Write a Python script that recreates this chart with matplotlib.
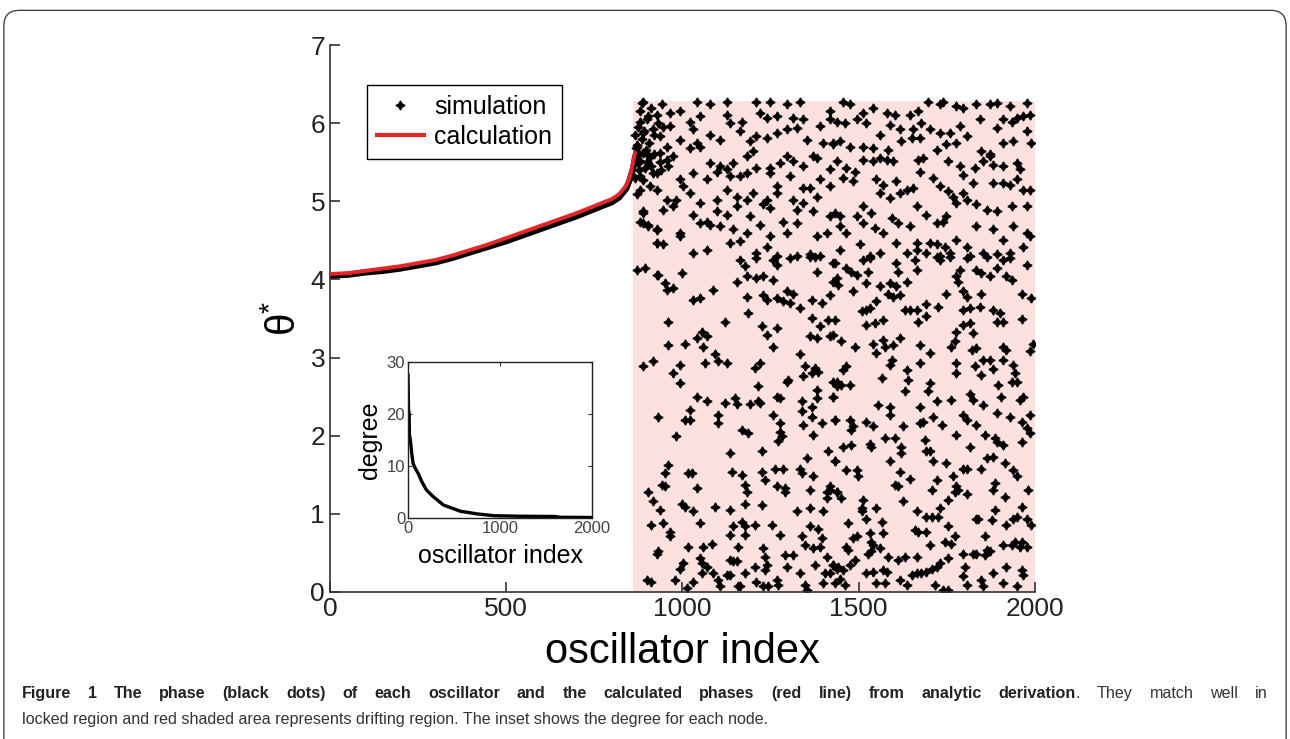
import numpy as np
import matplotlib.pyplot as plt
from matplotlib.lines import Line2D
from matplotlib.patches import FancyBboxPatch

plt.rcParams['font.family'] = ['Liberation Sans', 'DejaVu Sans']
plt.rcParams['mathtext.fontset'] = 'custom'
plt.rcParams['mathtext.rm'] = 'Liberation Sans'
plt.rcParams['mathtext.it'] = 'Liberation Sans:italic'

# locked region: calculated phase (red) and simulated phase (black band)
lock_idx = [0, 50, 100, 150, 200, 250, 300, 350, 400, 450, 500, 550, 600, 650,
            700, 750, 800, 820, 840, 850, 860, 865]
calc_phase = [4.07, 4.08, 4.11, 4.14, 4.17, 4.21, 4.25, 4.31, 4.38, 4.45, 4.53,
              4.61, 4.69, 4.77, 4.85, 4.94, 5.03, 5.09, 5.20, 5.30, 5.50, 5.62]
sim_phase = [4.05, 4.06, 4.09, 4.11, 4.14, 4.18, 4.22, 4.28, 4.35, 4.42, 4.49,
             4.57, 4.65, 4.73, 4.81, 4.90, 4.99, 5.05, 5.16, 5.27, 5.42, 5.55]

drift_start = 860
drift_top = 2 * np.pi

# drifting region: simulated phases (index, phase)
drift_pts = [
    # junction cluster
    (885, 6.26), (899, 6.05), (874, 5.95), (870, 5.72), (888, 5.62), (908, 5.57), (874, 5.49),
    (894, 5.43), (916, 5.36), (888, 5.27), (908, 5.19), (888, 4.87), (879, 4.74), (902, 4.70),
    (927, 4.63), (927, 4.47), (927, 4.06), (868, 5.68), (876, 5.60), (880, 5.52), (884, 5.80),
    (892, 5.90), (878, 5.40), (896, 5.66), (904, 5.75), (866, 5.85), (900, 5.50), (912, 5.45),
    (920, 5.60), (880, 6.15), (910, 6.20), (930, 6.00), (945, 5.95), (955, 5.70), (935, 5.50),
    (960, 5.45), (865, 5.30), (872, 5.10), (918, 5.85), (940, 5.40),
    # upper left block
    (889, 6.27), (941, 6.25), (1040, 6.27), (1078, 6.24), (1125, 6.27), (1210, 6.27), (1248, 6.27),
    (1296, 6.25), (1333, 6.27), (1419, 6.15), (879, 6.02), (903, 6.09), (927, 6.11), (965, 6.13),
    (993, 6.15), (1021, 6.02), (1050, 6.09), (1125, 6.11), (1135, 6.00), (1168, 6.02), (1220, 6.13),
    (1239, 6.07), (1267, 6.09), (1314, 6.07), (1343, 6.05), (1390, 5.96), (1419, 6.05), (889, 5.88),
    (917, 5.92), (936, 5.83), (965, 5.96), (993, 5.79), (1031, 5.92), (1040, 5.75), (1078, 5.85),
    (1106, 5.79), (1163, 5.90), (1192, 5.77), (1210, 5.83), (1239, 5.81), (1267, 5.88), (1296, 5.92),
    (1324, 5.94), (1352, 5.79), (1400, 5.75), (1428, 5.75), (870, 5.70), (898, 5.60), (936, 5.62),
    (955, 5.53), (974, 5.58), (1021, 5.68), (1050, 5.70), (1078, 5.49), (1106, 5.45), (1125, 5.41),
    (1144, 5.49), (1182, 5.58), (1201, 5.64), (1210, 5.43), (1248, 5.43), (1277, 5.49), (1296, 5.58),
    (1314, 5.51), (1343, 5.45), (1371, 5.58), (1381, 5.56), (1419, 5.41), (879, 5.32), (927, 5.36),
    (993, 5.28), (1002, 5.19), (1031, 5.36), (1069, 5.28), (1097, 5.38), (1135, 5.32), (1163, 5.32),
    (1182, 5.36), (1248, 5.36), (1267, 5.19), (1305, 5.32), (1343, 5.17), (1362, 5.17), (1390, 5.28),
    (1419, 5.19), (879, 5.15), (927, 5.15), (955, 5.02), (983, 5.02), (1021, 5.11), (1050, 4.98),
    (1097, 5.02), (1125, 5.15), (1154, 5.06), (1182, 5.02), (1201, 5.11), (1239, 5.02), (1267, 5.11),
    (1314, 5.02), (1343, 4.98), (1381, 5.06), (889, 4.85), (946, 4.89), (974, 4.94), (1031, 4.83),
    (1069, 4.74), (1097, 4.87), (1125, 4.83), (1154, 4.94), (1192, 4.81), (1229, 4.96), (1248, 4.91),
    (1286, 4.74), (1324, 4.89), (1371, 4.87), (1419, 4.81), (889, 4.72), (903, 4.68), (927, 4.64),
    (993, 4.59), (1050, 4.72), (1078, 4.70), (1106, 4.68), (1144, 4.64), (1182, 4.59), (1220, 4.70),
    (1248, 4.55), (1296, 4.59), (1324, 4.72), (1381, 4.55), (1409, 4.59), (927, 4.47), (946, 4.45),
    (993, 4.55), (1031, 4.34), (1069, 4.38), (1135, 4.47), (1163, 4.49), (1210, 4.34), (1239, 4.42),
    (1267, 4.30), (1324, 4.30), (1362, 4.32), (1390, 4.30),
    # upper right block
    (1456, 6.27), (1475, 6.24), (1513, 6.13), (1541, 6.20), (1579, 6.13), (1602, 6.11), (1645, 6.11),
    (1669, 6.15), (1697, 6.27), (1730, 6.24), (1740, 6.27), (1777, 6.22), (1796, 6.20), (1834, 6.24),
    (1872, 6.24), (1891, 6.26), (1929, 6.22), (1976, 6.26), (1986, 6.11), (1967, 6.09), (1948, 6.07),
    (1437, 6.02), (1461, 6.00), (1494, 6.05), (1522, 6.00), (1560, 5.85), (1588, 5.98), (1617, 5.92),
    (1654, 5.92), (1678, 6.00), (1702, 5.92), (1730, 5.88), (1759, 5.88), (1787, 5.96), (1806, 5.83),
    (1844, 6.05), (1891, 5.94), (1910, 6.05), (1934, 6.02), (1976, 5.90), (1427, 5.73), (1446, 5.77),
    (1475, 5.70), (1513, 5.70), (1541, 5.68), (1584, 5.66), (1621, 5.77), (1650, 5.81), (1673, 5.81),
    (1721, 5.66), (1749, 5.73), (1777, 5.75), (1848, 5.64), (1872, 5.60), (1910, 5.75), (1938, 5.77),
    (1990, 5.75), (1437, 5.51), (1465, 5.43), (1489, 5.38), (1513, 5.53), (1541, 5.51), (1560, 5.55),
    (1579, 5.53), (1598, 5.51), (1669, 5.53), (1683, 5.55), (1754, 5.51), (1787, 5.45), (1830, 5.43),
    (1853, 5.51), (1872, 5.58), (1882, 5.47), (1910, 5.45), (1948, 5.49), (1957, 5.41), (1456, 5.30),
    (1484, 5.26), (1550, 5.28), (1569, 5.21), (1607, 5.26), (1636, 5.15), (1654, 5.17), (1673, 5.38),
    (1711, 5.30), (1730, 5.19), (1754, 5.13), (1768, 5.06), (1796, 5.34), (1825, 5.23), (1882, 5.23),
    (1910, 5.23), (1929, 5.21), (1948, 5.28), (1967, 5.15), (1986, 5.15), (1432, 4.85), (1446, 4.81),
    (1494, 4.81), (1513, 4.94), (1536, 4.85), (1560, 5.11), (1588, 5.04), (1617, 5.11), (1664, 4.94),
    (1692, 4.83), (1721, 4.72), (1740, 4.74), (1749, 4.81), (1777, 4.98), (1796, 5.11), (1806, 5.02),
    (1834, 4.96), (1863, 4.89), (1891, 4.87), (1934, 4.94), (1976, 4.94), (1446, 4.68), (1465, 4.59),
    (1513, 4.72), (1546, 4.66), (1569, 4.59), (1593, 4.79), (1612, 4.72), (1645, 4.68), (1664, 4.47),
    (1702, 4.47), (1721, 4.45), (1744, 4.42), (1777, 4.51), (1806, 4.42), (1834, 4.68), (1882, 4.64),
    (1910, 4.51), (1938, 4.68), (1976, 4.59), (1986, 4.55), (1446, 4.38), (1503, 4.45), (1532, 4.30),
    (1560, 4.34), (1607, 4.47), (1636, 4.34), (1664, 4.38), (1692, 4.34), (1730, 4.30), (1759, 4.34),
    (1815, 4.30), (1853, 4.34), (1891, 4.32), (1929, 4.34), (1967, 4.42),
    # middle left block
    (870, 4.12), (894, 4.15), (931, 4.06), (950, 3.95), (955, 3.87), (974, 3.89), (998, 4.08),
    (1087, 3.87), (1031, 3.74), (1050, 3.76), (1154, 3.97), (1163, 4.25), (1177, 4.17), (1182, 4.04),
    (1210, 4.27), (1210, 4.02), (1229, 4.04), (1258, 4.25), (1267, 4.19), (1258, 3.99), (1305, 4.27),
    (1362, 4.29), (1376, 4.29), (1381, 4.10), (1428, 4.21), (1438, 4.02), (1182, 3.78), (1229, 3.80),
    (1239, 3.74), (1267, 3.76), (1296, 3.85), (1314, 3.82), (1286, 3.72), (1305, 3.70), (1367, 3.74),
    (1395, 3.70), (1419, 3.80), (1333, 3.63), (960, 3.46), (1120, 3.46), (1187, 3.57), (1367, 3.51),
    (1414, 3.48), (1225, 3.40), (1267, 3.38), (1239, 3.29), (1054, 3.33), (1069, 3.27), (1040, 3.25),
    (1059, 3.14), (960, 3.16), (1007, 3.18), (1258, 3.14), (1390, 3.40), (1362, 3.27), (1381, 3.25),
    (1419, 3.27), (889, 2.89), (917, 2.95), (974, 2.80), (993, 2.91), (993, 2.67), (1064, 2.93),
    (1092, 3.04), (1102, 2.95), (1125, 2.93), (1206, 2.87), (1220, 2.93), (1333, 3.04), (1348, 2.89),
    (1376, 2.87), (1385, 2.82), (1367, 2.80), (1296, 2.69), (1300, 2.71), (1343, 2.76), (1215, 2.63),
    (1381, 2.59), (1428, 2.69), (1438, 2.63), (1040, 2.50), (1069, 2.44), (1021, 2.33), (1120, 2.42),
    (1149, 2.48), (1154, 2.40), (1192, 2.40), (1215, 2.44), (1220, 2.42), (1267, 2.50), (1277, 2.48),
    (1338, 2.44), (1367, 2.37), (1381, 2.48), (1428, 2.50),
    # middle right block
    (1432, 4.21), (1465, 4.15), (1479, 4.10), (1494, 4.06), (1513, 4.25), (1532, 4.27), (1527, 4.10),
    (1607, 4.21), (1612, 4.10), (1659, 4.25), (1664, 4.12), (1721, 4.29), (1730, 4.25), (1759, 4.29),
    (1777, 4.04), (1782, 3.97), (1787, 4.12), (1806, 4.27), (1834, 4.12), (1848, 4.08), (1863, 4.29),
    (1891, 4.15), (1910, 4.25), (1929, 4.27), (1919, 4.04), (1934, 3.99), (1976, 4.19), (1427, 3.97),
    (1442, 3.93), (1484, 3.85), (1522, 3.95), (1560, 3.91), (1588, 3.95), (1607, 3.91), (1636, 3.97),
    (1584, 3.82), (1598, 3.78), (1617, 3.80), (1550, 3.72), (1749, 3.82), (1796, 3.85), (1806, 3.78),
    (1848, 3.82), (1872, 4.04), (1962, 3.82), (1990, 3.76), (1508, 3.59), (1522, 3.61), (1532, 3.63),
    (1569, 3.48), (1522, 3.42), (1546, 3.44), (1631, 3.61), (1645, 3.61), (1664, 3.61), (1669, 3.46),
    (1692, 3.68), (1692, 3.53), (1725, 3.65), (1796, 3.61), (1815, 3.63), (1844, 3.65), (1882, 3.61),
    (1900, 3.57), (1891, 3.46), (1910, 3.46), (1796, 3.42), (1815, 3.44), (1962, 3.50), (1432, 3.48),
    (1451, 3.21), (1489, 3.14), (1541, 3.18), (1569, 3.23), (1574, 3.14), (1598, 3.16), (1617, 3.25),
    (1550, 3.06), (1673, 3.16), (1702, 3.06), (1777, 3.33), (1773, 3.21), (1763, 3.14), (1825, 3.31),
    (1820, 3.10), (1834, 3.12), (1910, 3.14), (1919, 3.10), (1995, 3.18), (1986, 3.08), (1427, 3.29),
    (1593, 2.97), (1588, 2.91), (1673, 2.93), (1777, 2.93), (1777, 2.80), (1830, 2.89), (1848, 2.78),
    (1853, 2.97), (1872, 2.97), (1882, 2.86), (1910, 2.97), (1938, 2.91), (1943, 2.80), (1456, 2.84),
    (1465, 2.89), (1437, 2.69), (1451, 2.65), (1475, 2.65), (1565, 2.74), (1636, 2.84), (1640, 2.71),
    (1631, 2.57), (1702, 2.67), (1697, 2.57), (1721, 2.44), (1763, 2.46), (1815, 2.54), (1825, 2.46),
    (1853, 2.39), (1896, 2.65), (1905, 2.50), (1934, 2.69), (1948, 2.69), (1957, 2.46), (1967, 2.50),
    (1427, 2.50), (1555, 2.39), (1588, 2.37), (1673, 2.37),
    # lower left block
    (931, 2.24), (1007, 2.20), (1021, 2.20), (983, 1.99), (1102, 2.27), (1102, 2.16), (1168, 2.07),
    (1187, 2.03), (1258, 2.27), (1277, 2.16), (1277, 2.05), (1281, 1.99), (1272, 1.93), (1338, 2.31),
    (1343, 2.14), (1367, 2.24), (1371, 2.01), (1395, 2.16), (1433, 2.20), (1135, 1.78), (1225, 1.80),
    (1414, 1.80), (1433, 1.67), (1352, 1.71), (960, 1.63), (950, 1.52), (1017, 1.52), (1026, 1.52),
    (1140, 1.54), (1168, 1.50), (1225, 1.54), (1234, 1.43), (1262, 1.58), (1286, 1.58), (1267, 1.35),
    (1291, 1.33), (1291, 1.28), (1333, 1.58), (1338, 1.52), (1371, 1.48), (1409, 1.28), (1419, 1.31),
    (1438, 1.28), (1362, 1.31), (1177, 1.37), (1182, 1.28), (1040, 1.33), (941, 1.37), (950, 1.35),
    (903, 1.28), (917, 1.16), (936, 1.05), (998, 1.13), (1007, 1.09), (1031, 1.03), (1092, 1.09),
    (1135, 1.05), (1177, 1.13), (1225, 1.11), (1324, 1.03), (1362, 1.07), (1400, 1.03), (1409, 1.20),
    (912, 0.86), (946, 0.88), (965, 0.77), (965, 0.71), (1050, 0.88), (1144, 0.84), (1168, 0.90),
    (1177, 0.84), (1206, 0.86), (1253, 0.86), (1277, 0.73), (1135, 0.73), (1177, 0.73), (1338, 0.71),
    (1362, 0.84), (1385, 0.81), (1395, 0.69), (1348, 0.60), (1371, 0.56), (1390, 0.58), (927, 0.49),
    (931, 0.52), (1017, 0.58), (1059, 0.58), (1050, 0.43), (1083, 0.62), (1158, 0.58), (1229, 0.56),
    (1234, 0.45), (1291, 0.47), (1314, 0.47), (1409, 0.45), (1428, 0.35), (1438, 0.30), (1002, 0.37),
    (993, 0.30), (1054, 0.37), (1069, 0.32), (1135, 0.41), (1144, 0.39), (1154, 0.39), (1239, 0.35),
    (1296, 0.32), (1333, 0.24), (1376, 0.35), (1404, 0.24), (1419, 0.24), (898, 0.15), (912, 0.13),
    (979, 0.15), (1031, 0.13), (1054, 0.24), (1087, 0.24), (1102, 0.15), (1125, 0.22), (1135, 0.22),
    (1177, 0.24), (1206, 0.32), (1210, 0.13), (1234, 0.28), (1267, 0.15), (1272, 0.09), (1244, 0.07),
    (1229, 0.07), (1163, 0.07), (1106, 0.07), (1012, 0.05), (1348, 0.09), (1352, 0.02), (1400, 0.11),
    (1433, 0.11), (1158, 0.07),
    # lower right block
    (1432, 2.20), (1475, 2.20), (1484, 2.12), (1479, 2.07), (1522, 2.18), (1541, 2.12), (1588, 2.27),
    (1626, 2.12), (1673, 2.16), (1683, 2.18), (1711, 2.24), (1735, 2.14), (1796, 2.27), (1806, 2.20),
    (1834, 2.14), (1891, 2.29), (1929, 2.24), (1962, 2.18), (1986, 2.27), (1986, 2.03), (1976, 2.10),
    (1456, 1.86), (1479, 1.88), (1532, 1.90), (1536, 1.86), (1574, 1.97), (1602, 1.97), (1621, 1.86),
    (1621, 1.78), (1688, 1.95), (1692, 1.80), (1702, 1.80), (1711, 1.67), (1777, 2.01), (1815, 1.86),
    (1858, 2.01), (1886, 1.97), (1891, 1.92), (1910, 1.88), (1962, 1.92), (1863, 1.71), (1882, 1.73),
    (1915, 1.65), (1432, 1.67), (1465, 1.56), (1494, 1.56), (1498, 1.48), (1588, 1.67), (1617, 1.54),
    (1645, 1.45), (1749, 1.65), (1768, 1.48), (1777, 1.35), (1796, 1.58), (1806, 1.58), (1848, 1.58),
    (1938, 1.56), (1948, 1.48), (1981, 1.31), (1602, 1.37), (1612, 1.35), (1707, 1.31), (1721, 1.43),
    (1806, 1.26), (1882, 1.31), (1886, 1.39), (1915, 1.22), (1418, 1.35), (1437, 1.28), (1451, 1.20),
    (1513, 1.18), (1508, 1.07), (1508, 1.03), (1550, 1.07), (1626, 1.16), (1664, 1.03), (1692, 0.96),
    (1707, 0.96), (1725, 0.96), (1730, 1.07), (1754, 1.18), (1782, 1.31), (1773, 1.28), (1834, 0.94),
    (1839, 0.94), (1877, 0.92), (1886, 1.05), (1919, 0.86), (1938, 0.94), (1948, 0.96), (1962, 1.09),
    (1976, 0.94), (1990, 0.86), (1470, 0.88), (1522, 0.94), (1565, 0.90), (1569, 0.75), (1484, 0.69),
    (1494, 0.71), (1532, 0.75), (1536, 0.64), (1541, 0.60), (1465, 0.58), (1470, 0.54), (1527, 0.49),
    (1536, 0.52), (1560, 0.56), (1584, 0.45), (1612, 0.41), (1631, 0.45), (1664, 0.45), (1659, 0.79),
    (1669, 0.77), (1692, 0.77), (1702, 0.60), (1744, 0.64), (1754, 0.84), (1763, 0.62), (1773, 0.71),
    (1796, 0.49), (1801, 0.32), (1825, 0.49), (1834, 0.49), (1858, 0.47), (1863, 0.54), (1872, 0.52),
    (1910, 0.60), (1934, 0.60), (1957, 0.58), (1976, 0.58), (1858, 0.71), (1943, 0.64), (1962, 0.64),
    (1427, 0.35), (1442, 0.32), (1456, 0.28), (1475, 0.35), (1489, 0.41), (1522, 0.24), (1541, 0.26),
    (1569, 0.28), (1579, 0.26), (1550, 0.11), (1574, 0.11), (1617, 0.15), (1636, 0.09), (1650, 0.22),
    (1664, 0.24), (1678, 0.24), (1692, 0.26), (1707, 0.30), (1721, 0.32), (1730, 0.37), (1754, 0.43),
    (1796, 0.20), (1848, 0.15), (1853, 0.07), (1882, 0.24), (1910, 0.11), (1948, 0.07), (1962, 0.28),
    (1967, 0.22), (1919, 0.32), (1446, 0.17), (1461, 0.09), (1740, 0.02), (1754, 0.02), (1715, 0.09),
    (1806, 0.09),
]

# inset: node degree vs oscillator index
inset_idx = [0, 5, 12, 15, 25, 40, 55, 80, 110, 150, 200, 275, 385, 570, 750, 935,
             1200, 1600, 1650, 2000]
inset_deg = [27.5, 21, 20, 16, 15, 12.5, 10.5, 9.5, 8.6, 7, 5.4, 4.1, 2.5, 1.3, 0.8,
             0.45, 0.35, 0.3, 0.15, 0.1]

main_ticks_x = [0, 500, 1000, 1500, 2000]
main_ticks_y = [0, 1, 2, 3, 4, 5, 6, 7]
inset_ticks_x = [0, 1000, 2000]
inset_ticks_y = [0, 10, 20, 30]

caption_bold = ('Figure 1 The phase (black dots) of each oscillator and the calculated '
                'phases (red line) from analytic derivation')
caption_rest1 = '. They match well in'
caption_line2 = ('locked region and red shaded area represents drifting region. '
                 'The inset shows the degree for each node.')

red = '#e3262a'
pink = '#fce1df'
star = (4, 1, 0)

fig = plt.figure(figsize=(12.9, 7.39), dpi=100)
ax = fig.add_axes([0.2558, 0.199, 0.5465, 0.740])

ax.fill_between([drift_start, 2000], 0, drift_top, color=pink, lw=0, zorder=0)
ax.plot(lock_idx, sim_phase, color='black', lw=4.5, zorder=2)
ax.plot(lock_idx, calc_phase, color=red, lw=2.8, zorder=3)
d = np.array(drift_pts)
ax.plot(d[:, 0], d[:, 1], ls='none', marker=star, ms=6.5, color='black', zorder=2)

ax.set_xlim(0, 2000)
ax.set_ylim(0, 7)
ax.set_xticks(main_ticks_x)
ax.set_yticks(main_ticks_y)
for s in ['top', 'right']:
    ax.spines[s].set_visible(False)
for s in ['left', 'bottom']:
    ax.spines[s].set_color('#333333')
    ax.spines[s].set_linewidth(1.2)
ax.tick_params(direction='in', length=7, width=1.2, labelsize=19, colors='#333333',
               labelcolor='#222222')
ax.set_xlabel('oscillator index', fontsize=30, labelpad=8)
ax.set_ylabel(r'$\mathrm{\theta}^{*}$', fontsize=29, labelpad=5)

handles = [Line2D([], [], ls='none', marker=star, ms=6.5, color='black'),
           Line2D([], [], color=red, lw=3)]
leg = ax.legend(handles, ['simulation', 'calculation'], loc='upper left',
                bbox_to_anchor=(0.052, 0.927), borderaxespad=0, fontsize=18,
                fancybox=False, framealpha=1, edgecolor='black', handlelength=1.9,
                handletextpad=0.4, borderpad=0.4, labelspacing=0.25)
leg.get_frame().set_linewidth(1.0)

# inset
ax2 = fig.add_axes([0.3163, 0.299, 0.1426, 0.211])
ax2.plot(inset_idx, inset_deg, color='black', lw=2.4)
ax2.set_xlim(0, 2000)
ax2.set_ylim(0, 30)
ax2.set_xticks(inset_ticks_x)
ax2.set_yticks(inset_ticks_y)
ax2.tick_params(direction='in', length=3, labelsize=12, top=True, right=True,
                colors='#333333', labelcolor='#444444', pad=2)
for s in ax2.spines.values():
    s.set_linewidth(1.0)
    s.set_color('#222222')
ax2.set_xlabel('oscillator index', fontsize=18, labelpad=6)
ax2.set_ylabel('degree', fontsize=18, labelpad=3)

# frame around the figure panel
frame = FancyBboxPatch((0.003, -0.05), 0.994, 1.036, transform=fig.transFigure,
                       boxstyle='round,pad=0,rounding_size=0.012', fill=False,
                       edgecolor='#444444', lw=1.0, mutation_aspect=1290 / 739)
fig.patches.append(frame)

# caption: first line justified between the margins, second line left-aligned
cap_size = 11.6
W = fig.bbox.width
renderer = fig.canvas.get_renderer()
x_left, x_right = 22, 1268
y1, y2 = 1 - 698 / 739, 1 - 724 / 739

segs = [(w, 'bold', True) for w in caption_bold.split(' ')]
rest = caption_rest1.split(' ')
segs.append((rest[0], 'normal', False))
segs += [(w, 'normal', True) for w in rest[1:]]
texts = [fig.text(0, y1, w, fontsize=cap_size, weight=wt, va='baseline',
                  color='#222222' if wt == 'bold' else '#333333') for w, wt, _ in segs]
widths = [t.get_window_extent(renderer).width for t in texts]
n_gaps = sum(1 for s in segs[1:] if s[2])
gap = (x_right - x_left - sum(widths)) / n_gaps
x = x_left
for i, (t, wdt) in enumerate(zip(texts, widths)):
    if i > 0 and segs[i][2]:
        x += gap
    t.set_x(x / W)
    x += wdt
fig.text(x_left / W, y2, caption_line2, fontsize=cap_size, color='#333333', va='baseline')

plt.savefig('out.png', dpi=100)
